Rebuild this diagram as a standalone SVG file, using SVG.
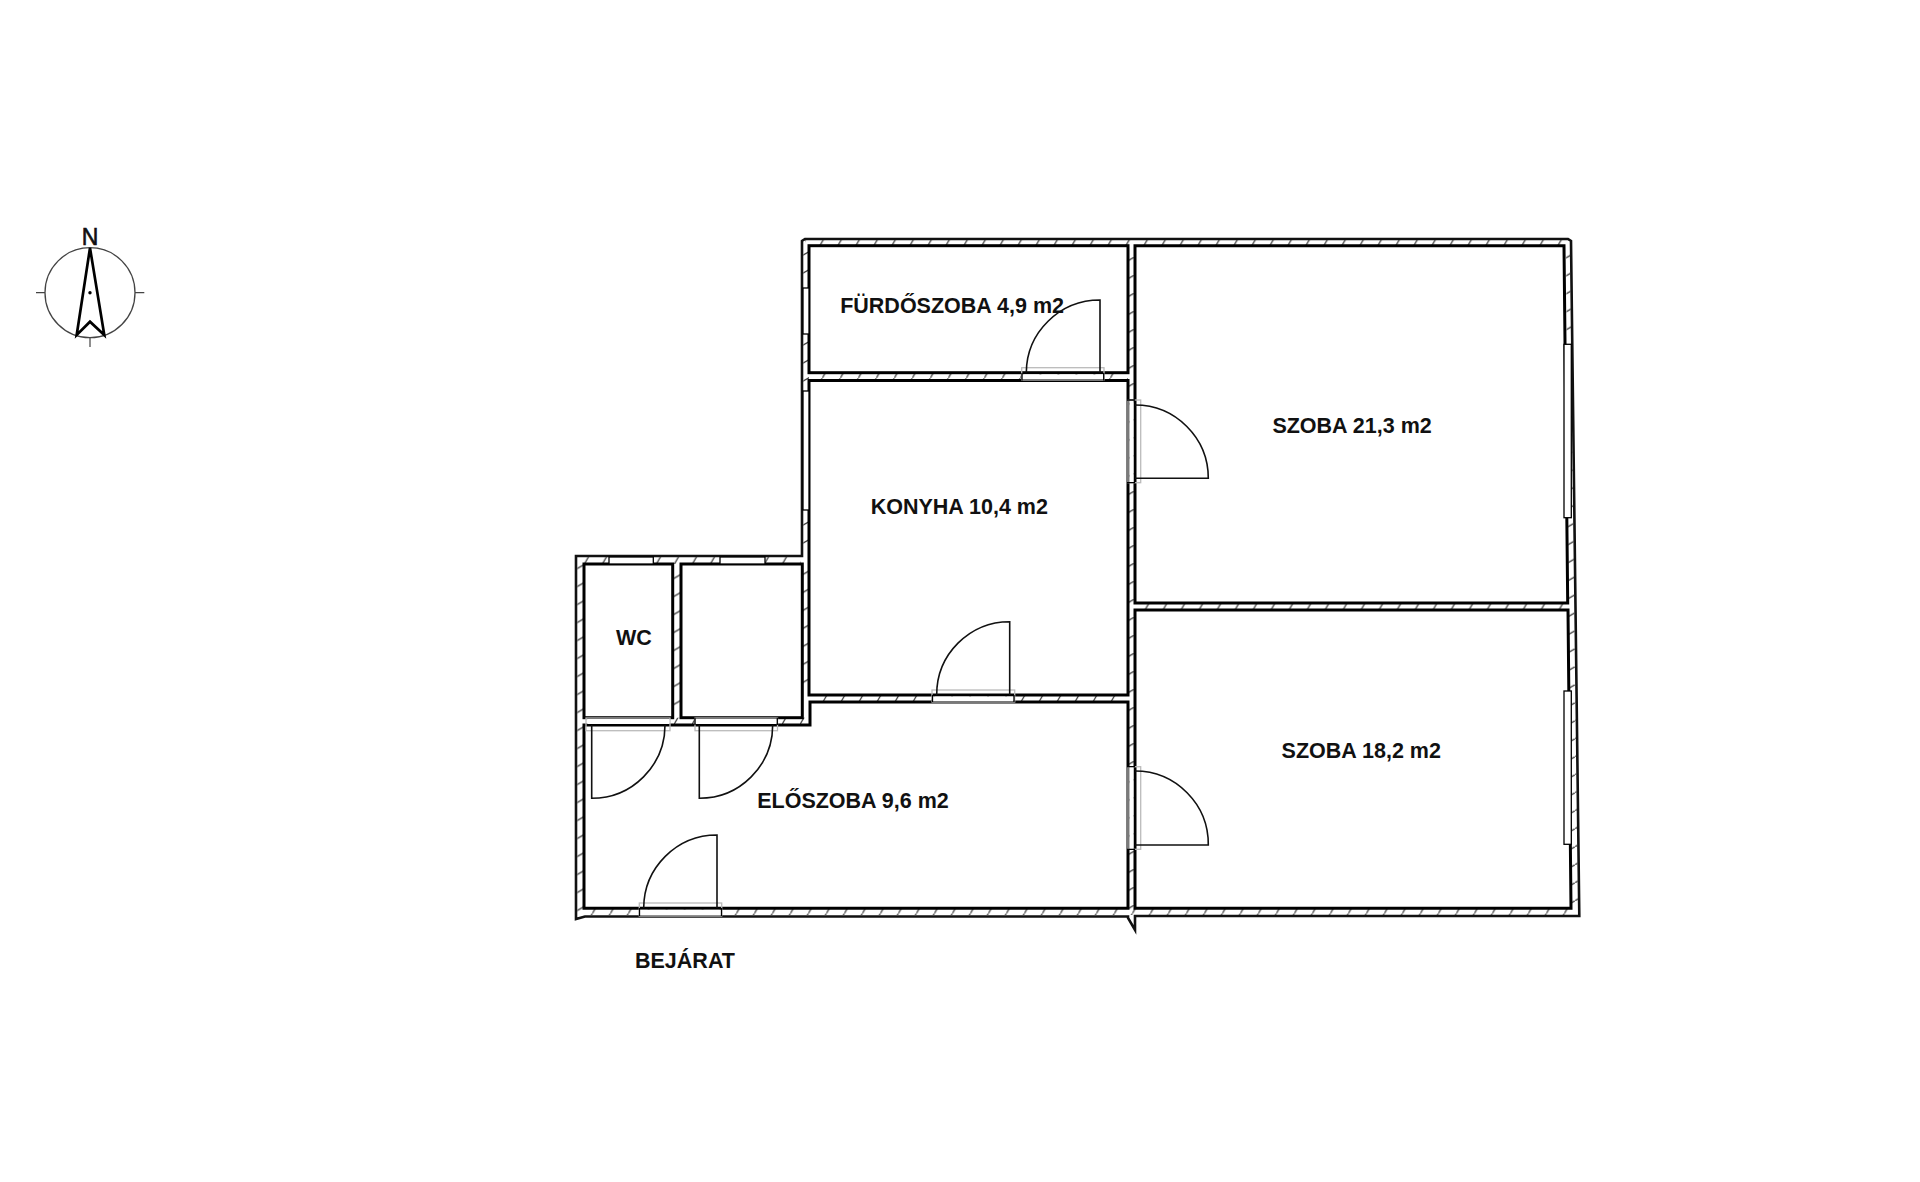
<svg xmlns="http://www.w3.org/2000/svg" xmlns:xlink="http://www.w3.org/1999/xlink" width="1920" height="1182" viewBox="0 0 1920 1182">
<style>
.room{fill:#fff;stroke:#000;stroke-width:3}
.outer{fill:#fff;stroke:#111;stroke-width:2.6}
.tick{stroke:#333;stroke-width:1.2;fill:none}
.open{fill:#fff;stroke:#000;stroke-width:1.3}
.frame{fill:none;stroke:#bbb;stroke-width:1.3}
.leaf{fill:none;stroke:#111;stroke-width:1.6}
.label{font-family:"Liberation Sans",Arial,sans-serif;font-weight:700;font-size:21.5px;fill:#111}
</style>
<defs>
<pattern id="h" patternUnits="userSpaceOnUse" width="18" height="31.5"><path class="tick" d="M-1.8 34.65L19.8 -3.15"/></pattern>
<pattern id="v" patternUnits="userSpaceOnUse" width="31.5" height="18"><path class="tick" d="M-3.15 19.8L34.65 -1.8"/></pattern>
<pattern id="h1" href="#h" patternTransform="translate(6.3 0)"/>
<pattern id="h2" href="#h" patternTransform="translate(12.4 0)"/>
<pattern id="h3" href="#h" patternTransform="translate(0.1 0)"/>
<pattern id="h4" href="#h" patternTransform="translate(16.4 0)"/>
<pattern id="h5" href="#h" patternTransform="translate(17.6 0)"/>
<pattern id="h6" href="#h" patternTransform="translate(6.7 0)"/>
<pattern id="h7" href="#h" patternTransform="translate(8 0)"/>
<pattern id="v1" href="#v" patternTransform="translate(0 16.4)"/>
<pattern id="v2" href="#v" patternTransform="translate(0 9.5)"/>
<pattern id="v3" href="#v" patternTransform="translate(0 7.3)"/>
<pattern id="v4" href="#v" patternTransform="translate(0 12)"/>
<pattern id="v5" href="#v" patternTransform="translate(0 5.3)"/>
<pattern id="v6" href="#v" patternTransform="translate(0 0.7)"/>
</defs>
<rect width="1920" height="1182" fill="#fff"/>
<g id="compass">
<circle cx="90" cy="292.7" r="45" fill="none" stroke="#444" stroke-width="1.3"/>
<path d="M36 292.7H45M135 292.7H144.3M90 338V347" stroke="#444" stroke-width="1.2" fill="none"/>
<path d="M90 248L76.7 335L90 321.7L104.3 335Z" fill="none" stroke="#000" stroke-width="2.7" stroke-linejoin="miter"/>
<circle cx="90" cy="292.7" r="1.7" fill="#000"/>
<text x="90" y="245.3" text-anchor="middle" style="font-family:'Liberation Sans',Arial,sans-serif;font-size:23px;stroke:#111;stroke-width:.6" fill="#111">N</text>
</g>
<g id="walls">
<path class="outer" d="M805 239H1568L1571 241L1579.3 916H1135V930L1128 918V916.5H585L576 919V556H802V241Z"/>
<rect x="805" y="240" width="763" height="6" fill="url(#h1)"/>
<rect x="809" y="373" width="319" height="7.5" fill="url(#h2)"/>
<rect x="810" y="695" width="318" height="7" fill="url(#h3)"/>
<rect x="585" y="908.3" width="993" height="6.7" fill="url(#h4)"/>
<rect x="1135" y="603" width="433" height="7" fill="url(#h5)"/>
<rect x="584" y="557" width="217" height="7" fill="url(#h6)"/>
<rect x="669" y="717.7" width="141" height="6.3" fill="url(#h7)"/>
<rect x="577.3" y="557" width="6.7" height="361" fill="url(#v1)"/>
<rect x="672.7" y="564" width="8.3" height="154" fill="url(#v2)"/>
<rect x="802.3" y="564" width="7.7" height="132" fill="url(#v3)"/>
<rect x="803.3" y="241" width="5.7" height="315" fill="url(#v4)"/>
<rect x="1128" y="246" width="7" height="663" fill="url(#v5)"/>
<polygon points="1566,241 1570,241 1578.2,915 1571,915" fill="url(#v6)"/>
</g>
<g id="rooms">
<rect id="furdoszoba" class="room" x="809" y="245.7" width="319" height="127"/>
<rect id="konyha" class="room" x="809" y="380.5" width="319" height="314.5"/>
<polygon id="szoba1" class="room" points="1135,245.7 1564,245.7 1567.7,603 1135,603"/>
<polygon id="szoba2" class="room" points="1135,610 1568,610 1571,908.3 1135,908.3"/>
<polygon id="eloszoba" class="room" points="584,725 810,725 810,702 1128,702 1128,908.3 584,908.3"/>
<rect id="wc" class="room" x="584" y="564" width="88.7" height="153.7"/>
<rect id="kamra" class="room" x="681" y="564" width="121.3" height="153.7"/>
</g>
<g id="windows">
<rect class="open" x="803" y="288" width="6" height="46"/>
<rect class="open" x="803" y="391" width="6" height="119"/>
<rect class="open" x="609" y="557" width="44.3" height="7"/>
<rect class="open" x="720" y="557" width="45" height="7"/>
<rect class="open" x="1564" y="344.3" width="7.3" height="173.4"/>
<rect class="open" x="1564" y="691" width="7.3" height="153.3"/>
</g>
<g id="doors">
<g id="door-wc"><rect class="frame" x="586" y="718" width="84" height="12.7"/><rect x="587.3" y="719" width="82" height="5" fill="#fff"/><path class="leaf" d="M591.7 725V798.3A73.3 73.3 0 0 0 665 725"/></g>
<g id="door-kamra"><rect class="frame" x="695" y="718" width="82.5" height="12.7"/><rect x="695.7" y="719" width="81" height="5" fill="#fff"/><path d="M695 717.7V725M777.3 717.7V725" stroke="#000" stroke-width="1.3"/><path class="leaf" d="M699.3 725V798.3A73.3 73.3 0 0 0 772.7 725"/></g>
<g id="door-bejarat"><rect class="frame" x="639.3" y="903" width="82.4" height="13"/><rect x="640" y="909.8" width="81" height="5.2" fill="#fff"/><path d="M639.5 908V916M721.5 908V916" stroke="#000" stroke-width="1.3"/><path class="leaf" d="M717 908V835A73.3 73.3 0 0 0 643.7 908"/></g>
<g id="door-konyha"><rect class="frame" x="932" y="690" width="82.7" height="12"/><rect x="932.7" y="696.5" width="81" height="4.5" fill="#fff"/><path d="M932.5 695V702M1014 695V702" stroke="#000" stroke-width="1.3"/><path class="leaf" d="M1009.7 695V621.7A73 73 0 0 0 936.7 695"/></g>
<g id="door-furdo"><rect class="frame" x="1021.7" y="367.7" width="82.3" height="12.3"/><rect x="1022.4" y="374.5" width="81" height="4.5" fill="#fff"/><path d="M1022 373V380.5M1103.7 373V380.5" stroke="#000" stroke-width="1.3"/><path class="leaf" d="M1100 372.5V300A73.7 73 0 0 0 1026.3 372.5"/></g>
<g id="door-szoba1"><rect class="frame" x="1128" y="400" width="12.7" height="82.7"/><rect x="1129.5" y="400.7" width="4" height="81.3" fill="#fff"/><path d="M1127 400H1135M1127 482.7H1135" stroke="#000" stroke-width="1.3"/><path class="leaf" d="M1135 478.3H1208.3A73.3 73.3 0 0 0 1135 405"/></g>
<g id="door-szoba2"><rect class="frame" x="1128" y="766.7" width="12.7" height="82.6"/><rect x="1129.5" y="767.4" width="4" height="81.2" fill="#fff"/><path d="M1127 766.7H1135M1127 849.3H1135" stroke="#000" stroke-width="1.3"/><path class="leaf" d="M1135 845H1208.3A73.3 73.3 0 0 0 1135 771"/></g>
</g>
<g id="labels">
<text class="label" x="840.2" y="312.7">FÜRDŐSZOBA 4,9 m2</text>
<text class="label" x="870.7" y="514">KONYHA 10,4 m2</text>
<text class="label" x="1272.4" y="433.3">SZOBA 21,3 m2</text>
<text class="label" x="1281.6" y="758">SZOBA 18,2 m2</text>
<text class="label" x="616" y="645">WC</text>
<text class="label" x="757.2" y="808.3">ELŐSZOBA 9,6 m2</text>
<text class="label" x="635" y="967.5">BEJÁRAT</text>
</g>
</svg>
